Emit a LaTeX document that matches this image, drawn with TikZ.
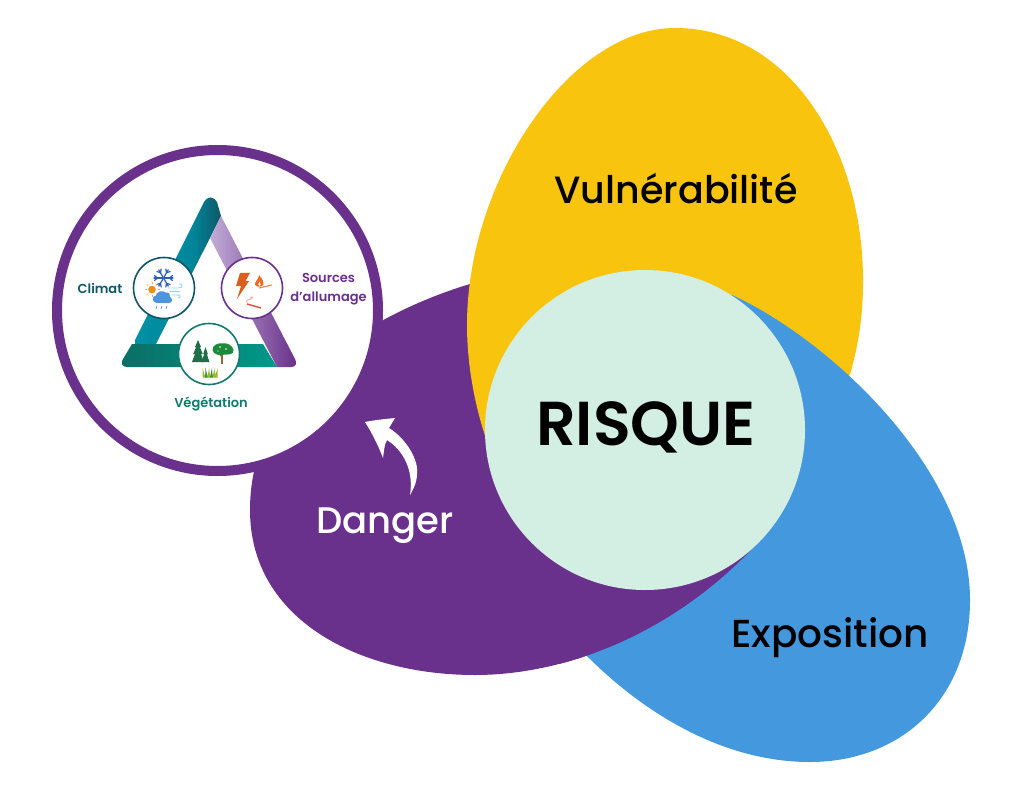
\documentclass[tikz,border=0pt]{standalone}
\usepackage{fontspec}
\setmainfont{Poppins}
\newfontfamily\pmed{Poppins Medium}
\newfontfamily\psemi{Poppins SemiBold}
\usetikzlibrary{calc}
\definecolor{cyel}{HTML}{F8C40E}
\definecolor{cblu}{HTML}{4498DE}
\definecolor{cpur}{HTML}{6A318C}
\definecolor{cmint}{HTML}{D3EFE3}
\definecolor{cteal}{HTML}{0F5666}
\definecolor{cgreen}{HTML}{117A6C}
\definecolor{ctealb}{HTML}{0090A5}
\definecolor{ctealc}{HTML}{00869A}
\definecolor{cgrb}{HTML}{00998A}
\definecolor{cgrd}{HTML}{0B6E66}
\definecolor{clil}{HTML}{C2ACD6}
\definecolor{csnow}{HTML}{2F5FB0}
\definecolor{csun}{HTML}{F58A1F}
\definecolor{cwind}{HTML}{8FD3EE}
\definecolor{ccloud}{HTML}{4F95DE}
\definecolor{cbolt}{HTML}{D9601E}
\definecolor{cflame}{HTML}{EF6A23}
\definecolor{cmatch}{HTML}{E88A45}
\definecolor{cburn}{HTML}{D9523F}
\definecolor{csmoke}{HTML}{EFB5AE}
\definecolor{cfir}{HTML}{1F6E4A}
\definecolor{ctree}{HTML}{1E8A3C}
\definecolor{ctrunk}{HTML}{8A6A3A}
\definecolor{cgrass}{HTML}{9CB82E}
\definecolor{cgrassd}{HTML}{3E8E3A}
\pgfdeclarehorizontalshading{leftband}{100bp}{color(0bp)=(ctealb); color(25bp)=(ctealb); color(58bp)=(ctealc); color(75bp)=(cteal); color(100bp)=(cteal)}
\newcommand{\purpleblob}{(470,284) .. controls (400,305) and (250,370) .. (250,510) .. controls (250,620) and (360,675) .. (475,675) .. controls (570,675) and (680,630) .. (762,538) -- (640,430) -- cycle}
\tikzset{
  x=1pt,y=-1pt,
  bigtext/.style={font=\pmed\fontsize{38}{40}\selectfont,text=black,inner sep=0pt},
  smalltext/.style={font=\psemi\fontsize{13}{19.5}\selectfont,inner sep=0pt,align=center},
  iconring/.style={circle,draw,fill=white,line width=1.6pt,minimum size=61pt,inner sep=0pt},
}
\begin{document}
\begin{tikzpicture}
\useasboundingbox (0,0) rectangle (1024,791);
\fill[white] (0,0) rectangle (1024,791);
% blobs
\fill[cpur] \purpleblob;
\fill[cyel] (467,325) .. controls (467,180) and (570,28) .. (675,28) .. controls (790,28) and (863,150) .. (863,280) .. controls (863,320) and (858,345) .. (850,375) -- (640,460) -- (490,450) .. controls (475,410) and (467,365) .. (467,325) -- cycle;
\fill[cblu] (732,295) .. controls (830,340) and (970,470) .. (970,600) .. controls (970,700) and (900,762) .. (810,762) .. controls (720,762) and (640,710) .. (585,654) -- (640,430) -- cycle;
\begin{scope}
\clip (560,500) rectangle (800,700);
\fill[cpur] \purpleblob;
\end{scope}
\node[circle,fill=cmint,minimum size=320pt,inner sep=0pt] (risque) at (645,430) {};
\node[font=\psemi\fontsize{62}{64}\selectfont,inner sep=0pt] (risquet) at (646,427) {RISQUE};
\node[bigtext] (vul) at (676,189) {Vulnérabilité};
\node[bigtext,font=\pmed\fontsize{39}{40}\selectfont] (expo) at (830,637.5) {Exposition};
\node[bigtext,font=\pmed\fontsize{37}{40}\selectfont,text=white] (danger) at (385,525.5) {Danger};
% arrow
\fill[white] (365,422) .. controls (375,420) and (385,419) .. (395,418) -- (389,428) .. controls (408,440) and (419,462) .. (417,474) .. controls (417,482) and (413,490) .. (410,495) .. controls (414,470) and (403,450) .. (387,440) .. controls (384,445) and (384,452) .. (383,458) .. controls (378,445) and (372,433) .. (365,422) -- cycle;
% badge
\node[circle,draw=cpur,fill=white,line width=10pt,minimum size=321pt,inner sep=0pt] (badge) at (217.5,310.5) {};
% triangle bands
\begin{scope}
 \clip (132,346) -- (204,202) .. controls (207,196) and (214,196) .. (217,202) -- (221,216) -- (210,238) -- (155,346) -- cycle;
 \shade[shading=leftband] (135,190) rectangle (222,350);
\end{scope}
\begin{scope}
 \clip (132,344) -- (263,344) -- (277,367) -- (127,367) .. controls (122,367) and (120,363) .. (123,359) -- cycle;
 \shade[left color=cgrd,middle color=cgrb,right color=cgrb] (122,340) rectangle (280,370);
\end{scope}
\begin{scope}
 \clip (221,216) -- (295,359) .. controls (298,364) and (295,367) .. (291,367) -- (277,367) -- (210,238) -- cycle;
 \shade[left color=clil,right color=cpur] (210,210) rectangle (296,370);
\end{scope}
% icon rings
\node[iconring,draw=cteal] (climring) at (164,288) {};
\node[iconring,draw=cpur] (srcring) at (252,288) {};
\node[iconring,draw=cgreen] (vegring) at (209,354) {};
% Climat icon: snowflake
\begin{scope}[shift={(163.5,278)},draw=csnow,line width=1.2pt,line cap=round]
 \foreach \a in {0,60,120} {
  \draw[rotate=\a] (-9.5,0) -- (9.5,0);
  \draw[rotate=\a] (6,0) -- (9,2.5) (6,0) -- (9,-2.5) (-6,0) -- (-9,2.5) (-6,0) -- (-9,-2.5);
 }
\end{scope}
% sun
\fill[csun] (152,289.5) circle (3.8);
\foreach \a in {0,45,...,315} \draw[csun!70!yellow,line width=.7pt] ($(152,289.5)+(\a:5.5)$) -- ($(152,289.5)+(\a:7.5)$);
% wind
\draw[cwind,line width=.8pt,line cap=round] (168,288) -- (178,288) .. controls (184,288) and (183,283) .. (179,284);
\draw[cwind,line width=.8pt,line cap=round] (170,291.5) -- (180,291.5);
\draw[cwind,line width=.8pt,line cap=round] (172,295) -- (177,295) .. controls (181,295) and (181,298) .. (178,298);
% cloud
\fill[ccloud] (157,303) .. controls (152,303) and (151,296) .. (156,295.5) .. controls (157,291) and (163,290) .. (165.5,292.5) .. controls (169,292) and (171,295) .. (170,297) .. controls (173,298) and (172.5,303) .. (169,303) -- cycle;
\foreach \x in {157,162,167} \draw[ccloud,line width=.7pt] (\x,306) -- (\x-1,309);
% bolt
\fill[cbolt] (240,273) -- (250,273) -- (245.5,281) -- (249,281) -- (237,299) -- (241,286) -- (236,286) -- cycle;
% flame
\fill[cflame] (259,275) .. controls (262,279) and (264,281) .. (263.5,284) .. controls (263,287) and (256,288) .. (255,284.5) .. controls (254.5,282) and (259,279) .. (259,275) -- cycle;
\fill[white] (259.5,281.5) .. controls (261,283) and (261,286) .. (259.5,286) .. controls (258,286) and (258,283) .. (259.5,281.5) -- cycle;
\draw[cmatch,line width=1.1pt] (259,288) -- (272,285);
% burnt match
\draw[cburn,line width=1.4pt] (247,304) -- (261,308);
\draw[csmoke,line width=1pt,line cap=round] (247,303) .. controls (245,299) and (250,300) .. (252,298.5) .. controls (254,297.5) and (252,296.5) .. (250,297);
% firs
\foreach \cx/\top/\hw in {198/340/6,205.5/347/4.5} {
 \fill[cfir] (\cx,\top) -- (\cx+\hw*.5,\top+7) -- (\cx+\hw*.3,\top+7) -- (\cx+\hw*.8,\top+14) -- (\cx+\hw*.5,\top+14) -- (\cx+\hw,362) -- (\cx-\hw,362) -- (\cx-\hw*.5,\top+14) -- (\cx-\hw*.8,\top+14) -- (\cx-\hw*.3,\top+7) -- (\cx-\hw*.5,\top+7) -- cycle;
}
% tree
\draw[ctrunk,line width=1.4pt] (222,351) -- (222,364);
\draw[ctrunk,line width=.8pt] (222,357) -- (218,353);
\fill[ctree] (212.5,350) .. controls (212,345) and (219,342.5) .. (222,343.5) .. controls (227,342) and (233,346) .. (233.5,350) .. controls (234,355) and (228,354.5) .. (225,354.5) .. controls (221,356) and (213,355) .. (212.5,350) -- cycle;
\fill[white] (220,347) circle (.9) (226,349) circle (.9) (218,351) circle (.7);
% grass
\foreach \x/\tx/\c in {204/202.5/cgrass,206.5/205.5/cgrassd,209/209/cgrass,211.5/212/cgrassd,214/215/cgrass,216/218/cgrass}
  \fill[\c] (\x-1.5,377.5) .. controls (\x-1,373) and (\tx,370) .. (\tx,367.5) .. controls (\tx,371) and (\x+1,374) .. (\x+1.5,377.5) -- cycle;
% labels
\node[smalltext,text=cteal] (clim) at (100,288) {Climat};
\node[smalltext,text=cpur] (src) at (328.5,289) {Sources\\d’allumage};
\node[smalltext,text=cgreen] (veg) at (211,404) {Végétation};
\end{tikzpicture}
\end{document}
